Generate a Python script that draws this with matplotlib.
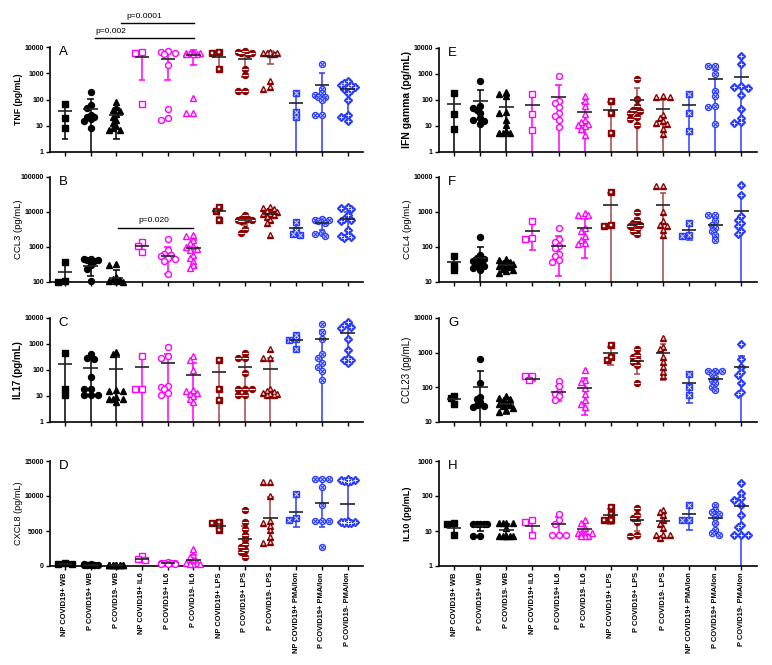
import numpy as np
import matplotlib.pyplot as plt

plt.rcParams['font.family'] = ['Liberation Sans', 'DejaVu Sans']

# groups on the x axis
groups = ["NP COVID19+ WB", "P COVID19+ WB", "P COVID19- WB",
          "NP COVID19+ IL6", "P COVID19+ IL6", "P COVID19- IL6",
          "NP COVID19+ LPS", "P COVID19+ LPS", "P COVID19- LPS",
          "NP COVID19+ PMA/Ion", "P COVID19+ PMA/Ion", "P COVID19- PMA/Ion"]

# ---- A: TNF ----
tnf_vals = [[70, 20, 8],
            [200, 60, 47, 26, 21, 21, 18, 15, 8],
            [80, 50, 40, 35, 28, 21, 17, 12.6, 10, 8, 7, 7],
            [6600, 5800, 70],
            [7000, 6500, 6000, 5500, 2000, 45, 20, 17],
            [6200, 6000, 6000, 5800, 5600, 5500, 5200, 110, 30, 30],
            [6500, 5800, 1500],
            [7000, 6300, 6000, 5800, 5500, 1500, 850, 220, 220],
            [6200, 6000, 5800, 5800, 5600, 5500, 500, 300, 260],
            [170, 32, 21],
            [2200, 260, 170, 150, 130, 130, 95, 26, 26],
            [500, 420, 360, 350, 300, 300, 260, 230, 170, 95, 26, 22, 15]]
tnf_mean = [37, 45, 26, 4100, 3400, 4800, 4300, 3400, 4700, 75, 360, 245]
tnf_sd = [34, 60, 23, 3550, 2850, 2800, 2500, 2700, 2500, 80, 700, 220]

# ---- B: CCL3 ----
ccl3_vals = [[380, 105, 100],
             [450, 440, 430, 420, 410, 400, 300, 240, 105],
             [320, 310, 140, 120, 115, 110, 105, 100],
             [1400, 1100, 700],
             [1700, 800, 650, 600, 550, 500, 450, 400, 165],
             [2200, 2000, 1600, 1300, 1100, 1000, 900, 800, 600, 500, 400, 300, 250],
             [14000, 11000, 6000],
             [8000, 6500, 6200, 6000, 6000, 5800, 5600, 3200, 2500],
             [14000, 13000, 12000, 11000, 10000, 9000, 8500, 8000, 7000, 6000, 5000, 2200],
             [5300, 3000, 2400, 2200],
             [6200, 6000, 5800, 5500, 5000, 2500, 2300, 2100],
             [14000, 13000, 12000, 8000, 6500, 6000, 5500, 3000, 2200, 2000, 1900, 1800]]
ccl3_mean = [194, 296, 133, 1070, 570, 955, 10500, 5900, 8800, 3400, 4700, 6200]
ccl3_sd = [230, 150, 90, 250, 400, 680, 3500, 1700, 3500, 1400, 1700, 4000]

# ---- C: IL17 ----
il17_vals = [[450, 18, 11],
             [400, 300, 260, 55, 18, 18, 11, 11, 11],
             [500, 400, 17, 16, 15, 9, 8, 8, 8, 6],
             [340, 18, 18],
             [800, 340, 290, 25, 23, 18, 13, 11],
             [340, 250, 100, 17, 15, 13, 12, 10, 8, 6],
             [250, 18, 7],
             [450, 300, 280, 75, 18, 18, 18, 11, 11],
             [650, 300, 300, 18, 15, 14, 13, 12, 12, 11, 11],
             [2300, 1500, 1400, 640],
             [6000, 3000, 1600, 400, 300, 180, 135, 92, 40],
             [7000, 5200, 4700, 4300, 1600, 600, 300, 250, 250, 180]]
il17_mean = [165, 116, 110, 125, 180, 64, 85, 130, 112, 1420, 1520, 2650]
il17_sd = [280, 165, 220, 200, 250, 115, 140, 170, 190, 850, 2000, 2400]

# ---- D: CXCL8 ----
cxcl8_vals = [[400, 300, 250],
              [250, 200, 150, 300, 100, 200, 150, 100, 200],
              [150, 100, 200, 100, 150, 120, 80, 100, 200, 150, 120, 100],
              [1400, 1050, 800],
              [600, 500, 450, 400, 400, 350, 300, 300],
              [2400, 1600, 1300, 900, 600, 500, 400, 300, 300, 250],
              [6300, 6100, 5700, 5100],
              [8000, 6300, 5300, 4400, 3800, 3200, 2700, 2300, 2000, 1300],
              [12000, 12000, 10000, 6450, 6200, 5700, 5100, 4200, 3450, 3300],
              [10300, 6800, 6600],
              [12500, 12500, 12500, 11300, 8700, 6450, 6450, 6450, 2700],
              [12400, 12300, 12300, 12200, 12200, 12000, 6400, 6300, 6300, 6300, 6200, 6200, 6200]]
cxcl8_mean = [320, 180, 130, 1050, 420, 900, 5700, 3800, 6800, 7740, 9030, 8800]
cxcl8_sd = [80, 70, 40, 300, 100, 700, 500, 1900, 3100, 2200, 3500, 3000]

# ---- E: IFN gamma ----
ifng_vals = [[185, 30, 8],
             [550, 57, 50, 40, 32, 20, 17, 15, 12],
             [200, 175, 140, 36, 32, 17, 11, 6.6, 5.3, 5.3, 5.3],
             [170, 30, 7],
             [860, 90, 75, 52, 33, 24, 17, 9],
             [145, 95, 57, 29, 17, 14, 12, 11, 10, 8, 4.6],
             [95, 33, 5.3],
             [650, 110, 57, 42, 37, 32, 22, 19, 11],
             [140, 130, 125, 27, 20, 15, 13, 12, 8, 5],
             [170, 32, 6.6],
             [2000, 2000, 1000, 230, 145, 57, 55, 12],
             [5000, 2500, 350, 330, 300, 160, 45, 20, 14, 13]]
ifng_mean = [72, 89, 52, 66, 130, 34, 42, 100, 45, 64, 640, 780]
ifng_sd = [100, 160, 85, 90, 260, 43, 45, 190, 55, 85, 830, 1450]

# ---- F: CCL4 ----
ccl4_vals = [[55, 30, 22],
             [190, 60, 50, 45, 40, 35, 30, 28, 25, 22],
             [45, 42, 38, 35, 32, 30, 28, 26, 24, 22, 20, 18],
             [540, 180, 165],
             [350, 165, 140, 110, 95, 65, 55, 43, 38],
             [930, 830, 800, 350, 280, 200, 160, 130, 120],
             [3700, 430, 390],
             [1000, 600, 480, 430, 390, 330, 280, 230],
             [5600, 5600, 1000, 540, 430, 390, 310, 220],
             [500, 220, 210],
             [830, 830, 540, 430, 350, 280, 220, 160],
             [6000, 3000, 750, 600, 480, 390, 280, 230]]
ccl4_mean = [37, 50, 31, 280, 110, 350, 1550, 450, 1600, 310, 430, 1100]
ccl4_sd = [18, 52, 8, 200, 95, 300, 2000, 220, 2000, 150, 250, 1800]

# ---- G: CCL23 ----
ccl23_vals = [[56, 48, 33],
              [660, 135, 54, 45, 39, 31, 28, 27],
              [55, 50, 45, 40, 35, 32, 30, 28, 25, 22, 20],
              [210, 210, 165],
              [150, 110, 75, 63, 55, 43],
              [310, 165, 145, 93, 65, 43, 33, 27],
              [1700, 770, 620],
              [1300, 850, 740, 640, 550, 440, 130],
              [2700, 1500, 1250, 770, 550, 390, 280, 210],
              [250, 100, 60],
              [300, 300, 300, 250, 190, 165, 130, 100, 85],
              [1750, 640, 390, 280, 230, 135, 75, 63]]
ccl23_mean = [45, 105, 33, 175, 75, 98, 960, 570, 960, 135, 170, 375]
ccl23_sd = [11, 195, 16, 25, 35, 82, 520, 320, 800, 100, 80, 450]

# ---- H: IL10 ----
il10_vals = [[17, 16, 7.5],
             [16, 16, 16, 16, 16, 7, 7],
             [17, 17, 17, 17, 12, 7, 7, 7, 7, 7, 7],
             [20, 18, 7.5],
             [30, 20, 16, 7.5, 7.5, 7.5],
             [21, 17, 12, 8.5, 8.5, 8.5, 8.5, 7, 7, 7],
             [50, 30, 21, 20],
             [44, 28, 23, 18, 7.5, 7],
             [40, 34, 28, 20, 16, 12, 7.5, 7.5, 7.5, 6.5],
             [55, 21, 20],
             [55, 40, 34, 30, 25, 17, 11, 8.5, 7.5],
             [230, 120, 85, 77, 55, 28, 15, 13, 7.5, 7.5, 7.5]]
il10_mean = [12.5, 13.6, 11, 14, 16, 11.5, 29, 20, 19, 30, 24, 52]
il10_sd = [4.5, 3.5, 4.5, 6, 9, 5, 13, 10, 12, 19, 16, 62]

BLACK = '#000000'
MAG = '#ff00ff'
DRED = '#8b0000'
DRED_BAR = '#a04848'
BLUE = '#2a3cff'

fig = plt.figure(figsize=(7.72, 6.65), dpi=100)


def px_axes(left, top, right, bottom):
    return fig.add_axes([left / 772, 1 - bottom / 665,
                         (right - left) / 772, (bottom - top) / 665])


def swarm(ax, x0, ys, step=3.5, near=4.0):
    # small beeswarm spread (in pixels), kept within about +-7 px
    pts = ax.transData.transform(np.column_stack([np.full(len(ys), x0), ys]))
    ypx = pts[:, 1]
    unit = (ax.transData.transform([(1, 0)]) - ax.transData.transform([(0, 0)]))[0, 0]
    order = np.argsort(-np.asarray(ys, dtype=float))
    placed = []
    offs = np.zeros(len(ys))
    for i in order:
        best, best_d = 0.0, -1
        for c in [0, -1, 1, -2, 2]:
            xo = c * step
            dmin = min([np.hypot(xo - px, ypx[i] - py) for px, py in placed] + [99])
            if dmin >= near:
                best = xo
                break
            if dmin > best_d:
                best, best_d = xo, dmin
        placed.append((best, ypx[i]))
        offs[i] = best / unit
    return offs


def draw_points(ax, g, x, y):
    ms = 4.3
    kw = dict(linestyle='none', clip_on=False, zorder=3)
    if g < 3:
        m = ['s', 'o', '^'][g]
        ax.plot(x, y, marker=m, ms=ms, color=BLACK, mec=BLACK, **kw)
    elif g < 6:
        m = ['s', 'o', '^'][g - 3]
        ax.plot(x, y, marker=m, ms=ms, mfc='white', mec=MAG, mew=1.0, **kw)
    elif g < 9:
        m = ['s', 'o', '^'][g - 6]
        ax.plot(x, y, marker=m, ms=ms, color=DRED, mec=DRED, **kw)
        kw['zorder'] = 4
        if g == 6:
            ax.plot(x, y, marker='s', ms=1.5, mfc='white', mec='white', mew=0.3, **kw)
        elif g == 7:
            ax.plot(x, y, marker='_', ms=4.0, mec='white', mew=0.8, **kw)
        else:
            ax.plot(x, y, marker='^', ms=1.4, mfc='white', mec='white', mew=0.3, **kw)
    else:
        if g == 9:
            ax.plot(x, y, marker='s', ms=ms, color=BLUE, mec=BLUE, **kw)
            kw['zorder'] = 4
            ax.plot(x, y, marker='x', ms=2.4, mec='white', mew=0.6, **kw)
        elif g == 10:
            ax.plot(x, y, marker='o', ms=ms, mfc='white', mec=BLUE, mew=1.0, **kw)
            kw['zorder'] = 4
            ax.plot(x, y, marker='x', ms=2.4, mec=BLUE, mew=0.8, **kw)
        else:
            ax.plot(x, y, marker='D', ms=3.8, color=BLUE, mec=BLUE, **kw)
            kw['zorder'] = 4
            ax.plot(x, y, marker='+', ms=2.6, mec='white', mew=0.6, **kw)


def bar_color(g):
    return [BLACK, MAG, DRED_BAR, BLUE][g // 3]


def draw_panel(ax, vals, means, sds, ylim, log, yticks, letter, ylabel,
               lsize, lbold, xlabels=False):
    if log:
        ax.set_yscale('log')
    ax.set_ylim(*ylim)
    ax.set_xlim(-0.58, 11.6)
    for g in range(12):
        c = bar_color(g)
        hi = means[g] + sds[g]
        lo = means[g] - sds[g]
        cap_lo = True
        if lo <= ylim[0]:
            lo = ylim[0]
            cap_lo = False
        ax.vlines(g, lo, hi, color=c, lw=1.1, zorder=2, clip_on=False)
        ax.hlines(hi, g - 0.13, g + 0.13, color=c, lw=1.1, zorder=2)
        if cap_lo:
            ax.hlines(lo, g - 0.13, g + 0.13, color=c, lw=1.1, zorder=2)
        ax.hlines(means[g], g - 0.28, g + 0.28, color='#222222', lw=1.2, zorder=5)
        offs = swarm(ax, g, vals[g])
        draw_points(ax, g, g + offs, vals[g])

    ax.set_yticks(yticks)
    ax.set_yticklabels([str(t) for t in yticks])
    ax.minorticks_off()
    ax.set_xticks(range(12))
    if xlabels:
        ax.set_xticklabels(groups, rotation=90, fontsize=5.4, fontweight='bold')
    else:
        ax.set_xticklabels([])
    for lab in ax.get_yticklabels():
        lab.set_fontsize(5)
        lab.set_fontweight('bold')
    ax.tick_params(axis='both', length=3, width=1, pad=1.5)
    for s in ['top', 'right']:
        ax.spines[s].set_visible(False)
    for s in ['left', 'bottom']:
        ax.spines[s].set_linewidth(1.2)
    ax.set_ylabel(ylabel, fontsize=lsize, fontweight='bold' if lbold else 'normal')
    ax.yaxis.set_label_coords(-0.085, 0.5)
    ax.text(0.028, 1.01, letter, transform=ax.transAxes, fontsize=9.5,
            va='top', ha='left')


axA = px_axes(50, 47, 363, 152)
axB = px_axes(50, 177, 363, 282)
axC = px_axes(50, 318, 363, 422)
axD = px_axes(50, 461, 363, 566)
axE = px_axes(439, 48, 757, 152)
axF = px_axes(439, 177, 757, 282)
axG = px_axes(439, 318, 757, 422)
axH = px_axes(439, 461, 757, 566)

draw_panel(axA, tnf_vals, tnf_mean, tnf_sd, (1, 10000), True,
           [1, 10, 100, 1000, 10000], 'A', 'TNF (pg/mL)', 6.3, True)
draw_panel(axB, ccl3_vals, ccl3_mean, ccl3_sd, (100, 100000), True,
           [100, 1000, 10000, 100000], 'B', 'CCL3 (pg/mL)', 6.8, False)
draw_panel(axC, il17_vals, il17_mean, il17_sd, (1, 10000), True,
           [1, 10, 100, 1000, 10000], 'C', 'IL17 (pg/mL)', 7, True)
draw_panel(axD, cxcl8_vals, cxcl8_mean, cxcl8_sd, (0, 15000), False,
           [0, 5000, 10000, 15000], 'D', 'CXCL8 (pg/mL)', 6.6, False, xlabels=True)
draw_panel(axE, ifng_vals, ifng_mean, ifng_sd, (1, 10000), True,
           [1, 10, 100, 1000, 10000], 'E', 'IFN gamma (pg/mL)', 7.5, True)
draw_panel(axF, ccl4_vals, ccl4_mean, ccl4_sd, (10, 10000), True,
           [10, 100, 1000, 10000], 'F', 'CCL4 (pg/mL)', 6.8, False)
draw_panel(axG, ccl23_vals, ccl23_mean, ccl23_sd, (10, 10000), True,
           [10, 100, 1000, 10000], 'G', 'CCL23 (pg/mL)', 7, False)
draw_panel(axH, il10_vals, il10_mean, il10_sd, (1, 1000), True,
           [1, 10, 100, 1000], 'H', 'IL10 (pg/mL)', 6.6, True, xlabels=True)

# significance bars
tA = axA.get_xaxis_transform()
axA.plot([2.17, 5.04], [1.229, 1.229], color='black', lw=1.0, transform=tA, clip_on=False)
axA.text(3.1, 1.26, 'p=0.0001', transform=tA, fontsize=6, ha='center', va='bottom')
axA.plot([1.16, 5.04], [1.086, 1.086], color='black', lw=1.0, transform=tA, clip_on=False)
axA.text(1.8, 1.115, 'p=0.002', transform=tA, fontsize=6, ha='center', va='bottom')
tB = axB.get_xaxis_transform()
axB.plot([2.05, 5.0], [0.514, 0.514], color='black', lw=1.0, transform=tB, clip_on=False)
axB.text(3.45, 0.55, 'p=0.020', transform=tB, fontsize=6, ha='center', va='bottom')

fig.savefig('out.png', dpi=100)
